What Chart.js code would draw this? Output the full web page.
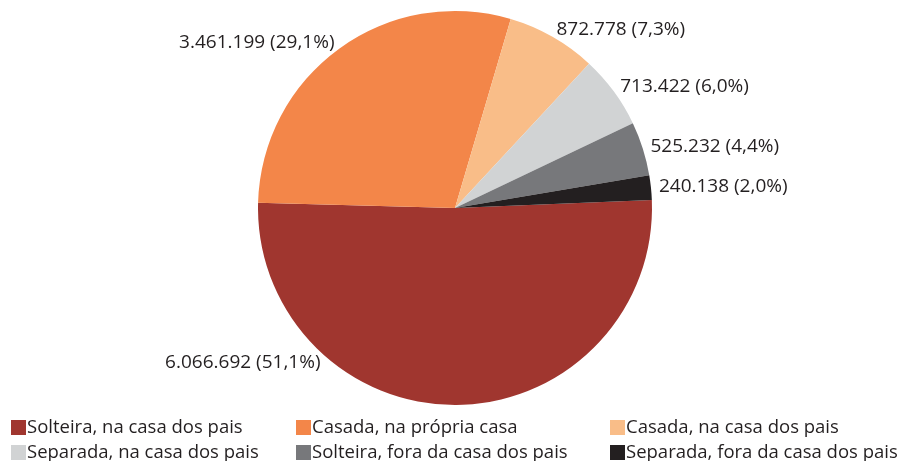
<!DOCTYPE html>
<html>
<head>
<meta charset="utf-8">
<script src="https://cdn.jsdelivr.net/npm/chart.js@4"></script>
<style>
  body { margin: 0; background: #fff; }
  #wrap { width: 899px; height: 461px; position: relative; }
</style>
</head>
<body>
<div id="wrap"><canvas id="chart"></canvas></div>
<script>
const categories = [
  'Solteira, na casa dos pais',
  'Casada, na própria casa',
  'Casada, na casa dos pais',
  'Separada, na casa dos pais',
  'Solteira, fora da casa dos pais',
  'Separada, fora da casa dos pais'
];
const values = [6066692, 3461199, 872778, 713422, 525232, 240138];
const valueLabels = ['6.066.692', '3.461.199', '872.778', '713.422', '525.232', '240.138'];
const percentLabels = ['51,1%', '29,1%', '7,3%', '6,0%', '4,4%', '2,0%'];
const colors = ['#A0362F', '#F38649', '#F9BD88', '#D1D3D4', '#77787B', '#231F20'];

const textColor = '#231F20';

// labels outside the slices, like the spreadsheet export
const sliceLabels = {
  id: 'sliceLabels',
  afterDatasetsDraw(chart, args, opts) {
    const ctx = chart.ctx;
    const meta = chart.getDatasetMeta(0);
    ctx.save();
    ctx.font = opts.font;
    ctx.fillStyle = textColor;
    ctx.textBaseline = 'middle';
    meta.data.forEach((arc, i) => {
      let mid = (arc.startAngle + arc.endAngle) / 2;
      if (opts.angles[i] != undefined) mid = opts.angles[i] * Math.PI / 180;
      const r = arc.outerRadius + opts.offset;
      const x = arc.x + Math.cos(mid) * r;
      const y = arc.y + Math.sin(mid) * r;
      ctx.textAlign = Math.cos(mid) >= 0 ? 'left' : 'right';
      ctx.fillText(valueLabels[i] + ' (' + percentLabels[i] + ')', x, y);
    });
    ctx.restore();
  }
};

// two rows, three columns
const gridLegend = {
  id: 'gridLegend',
  afterDraw(chart, args, opts) {
    const ctx = chart.ctx;
    ctx.save();
    ctx.font = opts.font;
    ctx.textBaseline = 'middle';
    ctx.textAlign = 'left';
    categories.forEach((label, i) => {
      const col = i % 3;
      const row = Math.floor(i / 3);
      const x = opts.columns[col];
      const y = opts.rows[row];
      ctx.fillStyle = colors[i];
      ctx.fillRect(x, y - opts.box / 2, opts.box, opts.box);
      ctx.fillStyle = textColor;
      ctx.fillText(label, x + opts.box + 1, y);
    });
    ctx.restore();
  }
};

new Chart(document.getElementById('chart'), {
  type: 'pie',
  data: {
    labels: categories,
    datasets: [{
      data: values,
      backgroundColor: colors,
      borderWidth: 0
    }]
  },
  options: {
    responsive: true,
    maintainAspectRatio: false,
    animation: false,
    rotation: 87.7,
    layout: { padding: { left: 258, right: 247, top: 11, bottom: 56 } },
    plugins: {
      legend: { display: false },
      tooltip: { enabled: false },
      sliceLabels: {
        font: '19px "Open Sans"',
        offset: 8,
        angles: { 0: 131 }
      },
      gridLegend: {
        font: '18.5px "Open Sans"',
        box: 15,
        columns: [11, 296, 610],
        rows: [427.5, 452.5]
      }
    }
  },
  plugins: [sliceLabels, gridLegend]
});
</script>
</body>
</html>
